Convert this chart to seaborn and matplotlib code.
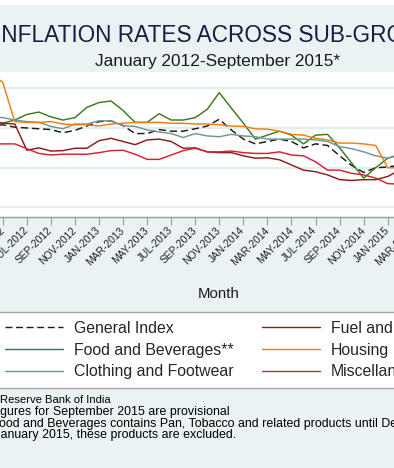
import numpy as np
import pandas as pd
import seaborn as sns
import matplotlib.pyplot as plt
from matplotlib.lines import Line2D

sns.set_style("white")
plt.rcParams["font.family"] = ["Liberation Sans", "DejaVu Sans"]

# months counted from Jan 2012 (0); the visible part is Apr 2012 - Feb 2015
month_idx = list(range(3, 38))

general = [10.2, 10.4, 10.1, 10.0, 9.9, 9.8, 9.4, 9.7, 10.25, 10.8, 10.9, 10.3,
           9.3, 9.3, 9.8, 9.6, 9.6, 9.9, 10.25, 11.1, 9.75, 8.6, 8.0, 8.3, 8.6,
           8.3, 7.5, 8.0, 7.8, 6.5, 5.3, 4.4, 5.0, 5.1, 5.3]
food = [10.4, 10.6, 11.0, 11.7, 12.0, 11.4, 11.0, 11.3, 12.6, 13.2, 13.4, 12.2,
        10.7, 10.7, 11.8, 11.0, 11.0, 11.3, 12.35, 14.45, 12.5, 10.6, 8.6, 9.1,
        9.6, 9.1, 8.0, 9.1, 9.2, 7.5, 5.6, 3.7, 5.0, 6.2, 6.6]
clothing = [11.4, 11.3, 11.0, 10.8, 10.7, 10.2, 9.9, 10.5, 10.5, 10.9, 10.9, 10.3,
            10.2, 9.75, 9.5, 9.3, 8.8, 9.3, 9.0, 8.9, 9.2, 9.0, 8.9, 8.6, 8.6,
            8.6, 8.6, 8.5, 8.3, 7.65, 7.4, 7.0, 6.5, 6.2, 6.7]
fuel = [11.0, 10.6, 10.5, 7.2, 7.5, 7.1, 7.15, 7.45, 7.45, 8.4, 8.7, 8.3,
        7.9, 8.5, 8.6, 8.3, 7.45, 7.5, 7.0, 6.9, 6.9, 6.5, 6.2, 6.25, 6.0,
        5.35, 4.7, 4.5, 4.1, 3.5, 3.4, 3.5, 3.5, 3.9, 4.7]
housing = [16.8, 15.75, 10.8, 10.7, 10.7, 10.8, 10.5, 10.4, 10.4, 10.25, 10.5, 10.6,
           10.7, 10.7, 10.7, 10.6, 10.6, 10.5, 10.5, 10.4, 10.25, 10.2, 9.9, 9.85,
           9.6, 9.2, 9.1, 8.7, 8.5, 8.1, 8.1, 8.0, 7.8, 5.0, 5.0]
misc = [8.0, 8.0, 8.0, 7.4, 6.8, 6.6, 6.7, 6.7, 6.7, 6.9, 7.15, 7.2,
        6.7, 6.05, 6.05, 6.6, 7.15, 7.45, 7.0, 7.0, 7.1, 6.9, 6.8, 6.8, 7.0,
        6.6, 6.5, 5.75, 4.7, 4.7, 4.3, 4.1, 3.7, 3.0, 2.95]

series_names = ["General Index", "Food and Beverages**", "Clothing and Footwear",
                "Fuel and Light", "Housing", "Miscellaneous"]
series_values = [general, food, clothing, fuel, housing, misc]
series_colors = ["#1a1a1a", "#3d7a1f", "#6f9792", "#8c1c1c", "#f07d12", "#d42330"]

month_names = ["JAN", "FEB", "MAR", "APR", "MAY", "JUN",
               "JUL", "AUG", "SEP", "OCT", "NOV", "DEC"]
tick_pos = list(range(0, 45, 2))
tick_labels = [f"{month_names[m % 12]}-{2012 + m // 12}" for m in tick_pos]

df = pd.DataFrame({
    "month": month_idx * len(series_names),
    "rate": sum(series_values, []),
    "series": sum([[n] * len(month_idx) for n in series_names], []),
})

BG = "#eaf2f3"
W, H = 394, 468
fig = plt.figure(figsize=(W / 100, H / 100), dpi=100, facecolor=BG)


def box(x0, y0, x1, y1):
    return [x0 / W, 1 - y1 / H, (x1 - x0) / W, (y1 - y0) / H]


# white strip at the very top of the image
fig.patches.append(plt.Rectangle((0, 1 - 5 / H), 1, 5 / H, transform=fig.transFigure,
                                 facecolor="white", edgecolor="none"))

ax = fig.add_axes(box(-57.4, 72, 496, 217))
ax.set_facecolor("white")

palette = dict(zip(series_names, series_colors))
dashes = {n: "" for n in series_names}
dashes["General Index"] = (5, 2.6)
sns.lineplot(data=df, x="month", y="rate", hue="series", style="series",
             palette=palette, dashes=dashes, linewidth=1.05, ax=ax, legend=False)

ax.set_xlim(-1, 45)
ax.set_ylim(-1.195, 17.04)
ax.set_yticks([0, 5, 10, 15])
ax.set_yticklabels([])
ax.yaxis.grid(True, color="#e3ecee", linewidth=1.4)
ax.set_axisbelow(True)
for side in ["left", "right", "top"]:
    ax.spines[side].set_visible(False)
ax.spines["bottom"].set_color("#9a9a9a")
ax.spines["bottom"].set_linewidth(1.0)
ax.set_xticks(tick_pos)
ax.set_xticklabels(tick_labels, rotation=45, ha="right", va="center",
                   rotation_mode="anchor", fontsize=7.4, color="#222222")
ax.tick_params(axis="x", length=5.4, width=0.8, color="#9a9a9a", pad=3, bottom=True)
ax.tick_params(axis="y", length=0)
ax.set_xlabel("")
ax.set_ylabel("")

renderer = fig.canvas.get_renderer()


def cut_text(prefix, full, x_vis, y_base, size, color="black"):
    t = fig.text(0, 0, prefix, fontsize=size)
    w = t.get_window_extent(renderer).width
    t.remove()
    fig.text((x_vis - w) / W, 1 - y_base / H, full, fontsize=size, va="baseline",
             ha="left", color=color)


cut_text("I", "INFLATION RATES ACROSS SUB-GROUPS", 1.5, 41.7, 16.3, "#14203f")
fig.text(217.7 / W, 1 - 65.7 / H, "January 2012-September 2015*", ha="center",
         va="baseline", fontsize=12.4, color="#1a1a1a")
fig.text(219 / W, 1 - 298.3 / H, "Month", ha="center", va="baseline", fontsize=10.8,
         color="#1a1a1a")

handles = [Line2D([], [], color=c, linewidth=1.0,
                  linestyle=(0, (5, 2.6)) if n == "General Index" else "-")
           for n, c in zip(series_names, series_colors)]
leg = fig.legend(handles, series_names, ncol=2, loc="upper left",
                 bbox_to_anchor=(-3.7 / W, 1 - 312.3 / H), bbox_transform=fig.transFigure,
                 borderaxespad=0, fontsize=11.4, frameon=True, fancybox=False,
                 borderpad=0.55, labelspacing=0.42, handlelength=3.66,
                 handletextpad=0.69, columnspacing=1.8)
leg.get_frame().set_facecolor("white")
leg.get_frame().set_edgecolor("#a8a8a8")
leg.get_frame().set_linewidth(1.0)
leg.get_frame().set_alpha(1)

cut_text("Source: ", "Source: Reserve Bank of India", 0.5, 403.3, 8.1)
cut_text("*Fi", "*Figures for September 2015 are provisional", 0.0, 415.0, 8.95)
cut_text("**F", "**Food and Beverages contains Pan, Tobacco and related products until December 2014.",
         -0.5, 426.7, 8.95)
cut_text("From J", "From January 2015, these products are excluded.", 0.5, 438.3, 8.95)

fig.savefig("out.png", dpi=100, facecolor=BG)
